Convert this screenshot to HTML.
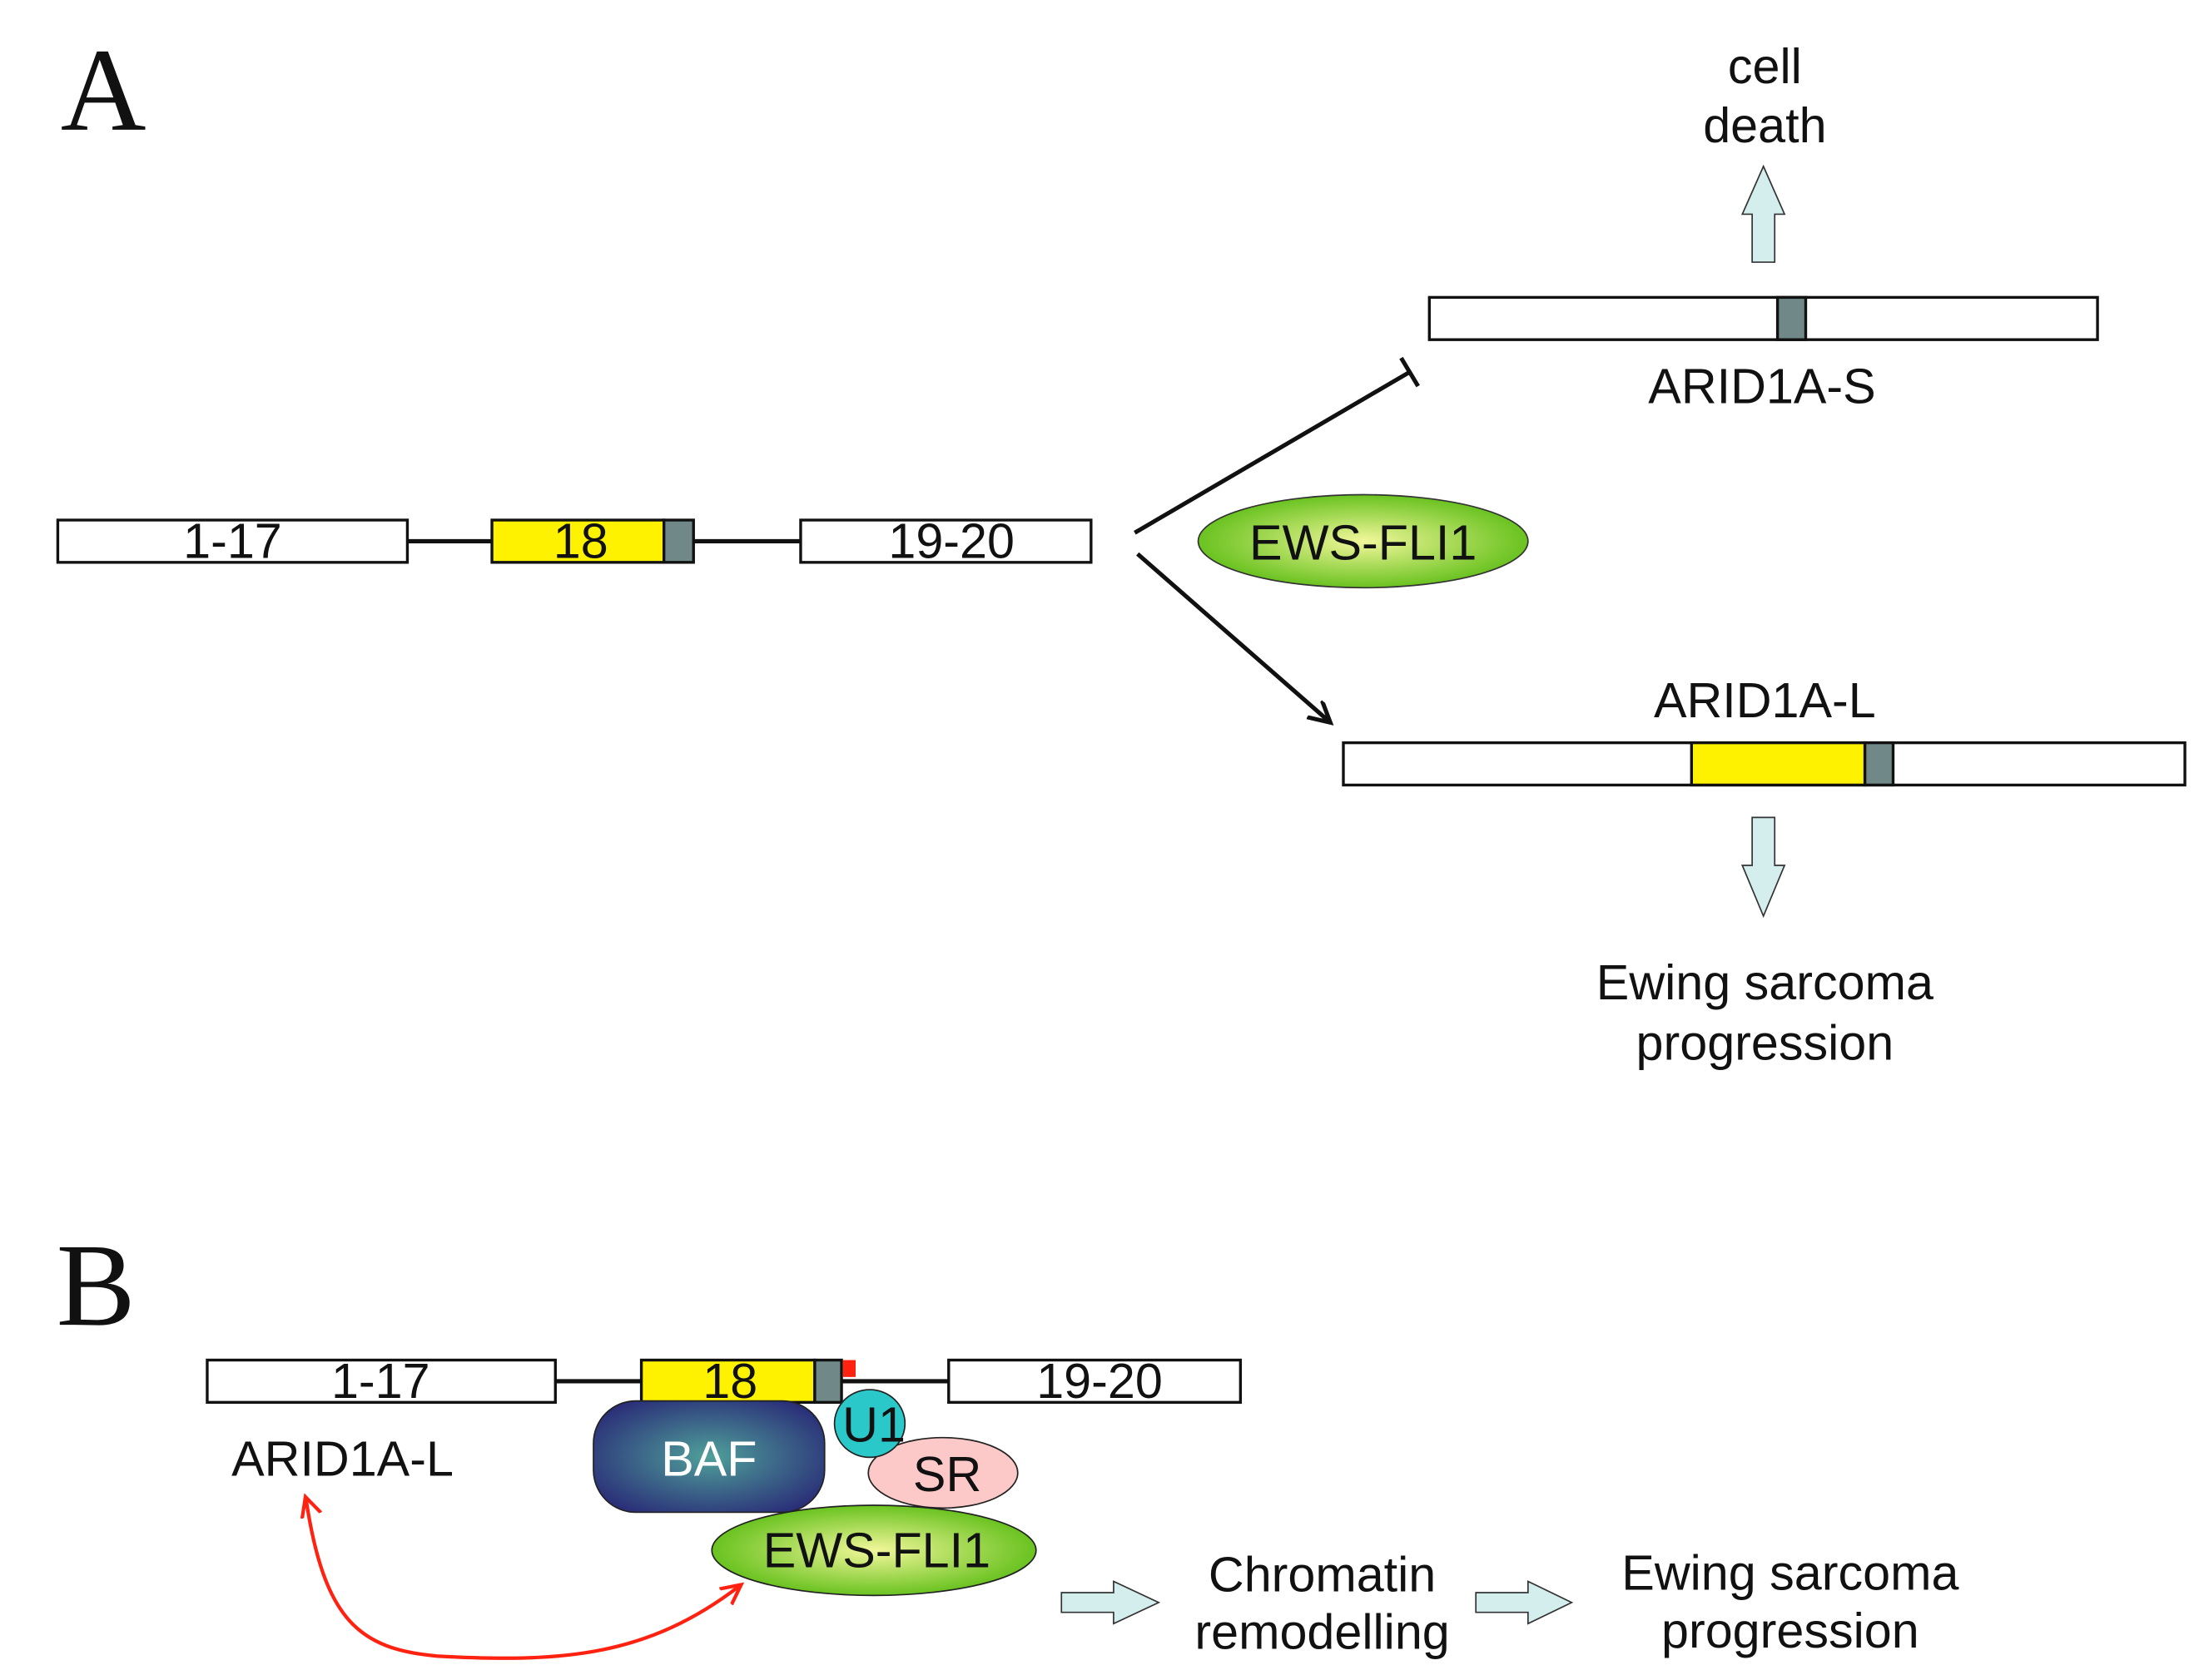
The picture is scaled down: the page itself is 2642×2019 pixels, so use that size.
<!DOCTYPE html>
<html><head><meta charset="utf-8"><style>html,body{margin:0;padding:0;background:#fff;overflow:hidden}svg{display:block}</style></head>
<body>
<svg width="2642" height="2019" viewBox="0 0 1560 1192" preserveAspectRatio="none" xmlns="http://www.w3.org/2000/svg" font-family="Liberation Sans, Arial, sans-serif">
<defs>
<radialGradient id="g" cx="50%" cy="50%" r="55%"><stop offset="0" stop-color="#f2f79a"/><stop offset="1" stop-color="#5cbd14"/></radialGradient>
<radialGradient id="baf" cx="50%" cy="50%" r="60%"><stop offset="0" stop-color="#4fa09a"/><stop offset="1" stop-color="#2a2e78"/></radialGradient>
<marker id="ah" markerWidth="20" markerHeight="20" refX="14" refY="8" orient="auto" markerUnits="userSpaceOnUse"><path d="M0,0 L15,8 L0,16" fill="none" stroke="#111" stroke-width="3"/></marker>
<marker id="rh" markerWidth="20" markerHeight="20" refX="13" refY="8" orient="auto" markerUnits="userSpaceOnUse"><path d="M0,1 L14,8 L0,15" fill="none" stroke="#f21" stroke-width="2.5"/></marker>
</defs>
<g fill="#111">
<text x="43" y="92" font-family="Liberation Serif, serif" font-size="84">A</text>
<text x="40" y="940" font-family="Liberation Serif, serif" font-size="84">B</text>
</g>
<g font-size="35" text-anchor="middle" fill="#111">
<text x="1252" y="59">cell</text><text x="1252" y="101">death</text>
<text x="1250" y="286">ARID1A-S</text>
<text x="1252" y="509">ARID1A-L</text>
<text x="1252" y="709">Ewing sarcoma</text><text x="1252" y="752">progression</text>
</g>
<path d="M1243,186 L1243,152 L1236,152 L1251,118 L1266,152 L1259,152 L1259,186 Z" fill="#d4eeee" stroke="#333" stroke-width="1"/>
<path d="M1243,580 L1243,614 L1236,614 L1251,650 L1266,614 L1259,614 L1259,580 Z" fill="#d4eeee" stroke="#333" stroke-width="1"/>
<g stroke="#111" stroke-width="2">
<rect x="1014" y="211" width="474" height="30" fill="#fff"/>
<rect x="1261" y="211" width="20" height="30" fill="#718888"/>
<rect x="953" y="527" width="597" height="30" fill="#fff"/>
<rect x="1200" y="527" width="123" height="30" fill="#fff200"/>
<rect x="1323" y="527" width="20" height="30" fill="#718888"/>
<line x1="289" y1="384" x2="349" y2="384" stroke-width="3"/>
<line x1="492" y1="384" x2="568" y2="384" stroke-width="3"/>
<rect x="41" y="369" width="248" height="30" fill="#fff"/>
<rect x="349" y="369" width="122" height="30" fill="#fff200"/>
<rect x="471" y="369" width="21" height="30" fill="#718888"/>
<rect x="568" y="369" width="206" height="30" fill="#fff"/>
<line x1="805" y1="378" x2="1000" y2="264" stroke-width="3"/>
<line x1="994" y1="254" x2="1006" y2="274" stroke-width="3"/>
<line x1="807" y1="393" x2="943" y2="512" stroke-width="3" marker-end="url(#ah)"/>
</g>
<ellipse cx="967" cy="384" rx="117" ry="33" fill="url(#g)" stroke="#333" stroke-width="1"/>
<g font-size="35" text-anchor="middle" fill="#111">
<text x="165" y="396">1-17</text><text x="412" y="396">18</text><text x="675" y="396">19-20</text>
<text x="967" y="397">EWS-FLI1</text>
</g>
<g stroke="#111" stroke-width="2">
<line x1="394" y1="980" x2="455" y2="980" stroke-width="3"/>
<line x1="597" y1="980" x2="673" y2="980" stroke-width="3"/>
<rect x="147" y="965" width="247" height="30" fill="#fff"/>
<rect x="455" y="965" width="123" height="30" fill="#fff200"/>
<rect x="578" y="965" width="19" height="30" fill="#718888"/>
<rect x="673" y="965" width="207" height="30" fill="#fff"/>
</g>
<rect x="598" y="965" width="9" height="12" fill="#f21"/>
<rect x="421" y="994" width="164" height="79" rx="30" fill="url(#baf)" stroke="#222" stroke-width="1"/>
<ellipse cx="669" cy="1045" rx="53" ry="25" fill="#fcc8c8" stroke="#222" stroke-width="1"/>
<ellipse cx="617" cy="1010" rx="25" ry="24" fill="#2ac8c8" stroke="#222" stroke-width="1"/>
<ellipse cx="620" cy="1100" rx="115" ry="32" fill="url(#g)" stroke="#222" stroke-width="1"/>
<g font-size="35" text-anchor="middle" fill="#111">
<text x="270" y="992">1-17</text><text x="518" y="992">18</text><text x="780" y="992">19-20</text>
<text x="503" y="1047" fill="#fff">BAF</text>
<text x="620" y="1023">U1</text>
<text x="672" y="1058">SR</text>
<text x="622" y="1112">EWS-FLI1</text>
<text x="243" y="1047">ARID1A-L</text>
<text x="938" y="1129">Chromatin</text><text x="938" y="1170">remodelling</text>
<text x="1270" y="1128">Ewing sarcoma</text><text x="1270" y="1169">progression</text>
</g>
<path d="M217,1063 C230,1150 255,1170 310,1175 C400,1180 460,1175 525,1125" fill="none" stroke="#f21" stroke-width="2.5" marker-end="url(#rh)"/>
<path d="M245,1150 L217,1063" fill="none" stroke="none" marker-end="url(#rh)"/>
<path d="M753,1130 L790,1130 L790,1122 L822,1137 L790,1152 L790,1144 L753,1144 Z" fill="#d4eeee" stroke="#333" stroke-width="1"/>
<path d="M1047,1130 L1084,1130 L1084,1122 L1115,1137 L1084,1152 L1084,1144 L1047,1144 Z" fill="#d4eeee" stroke="#333" stroke-width="1"/>
</svg>
</body></html>
